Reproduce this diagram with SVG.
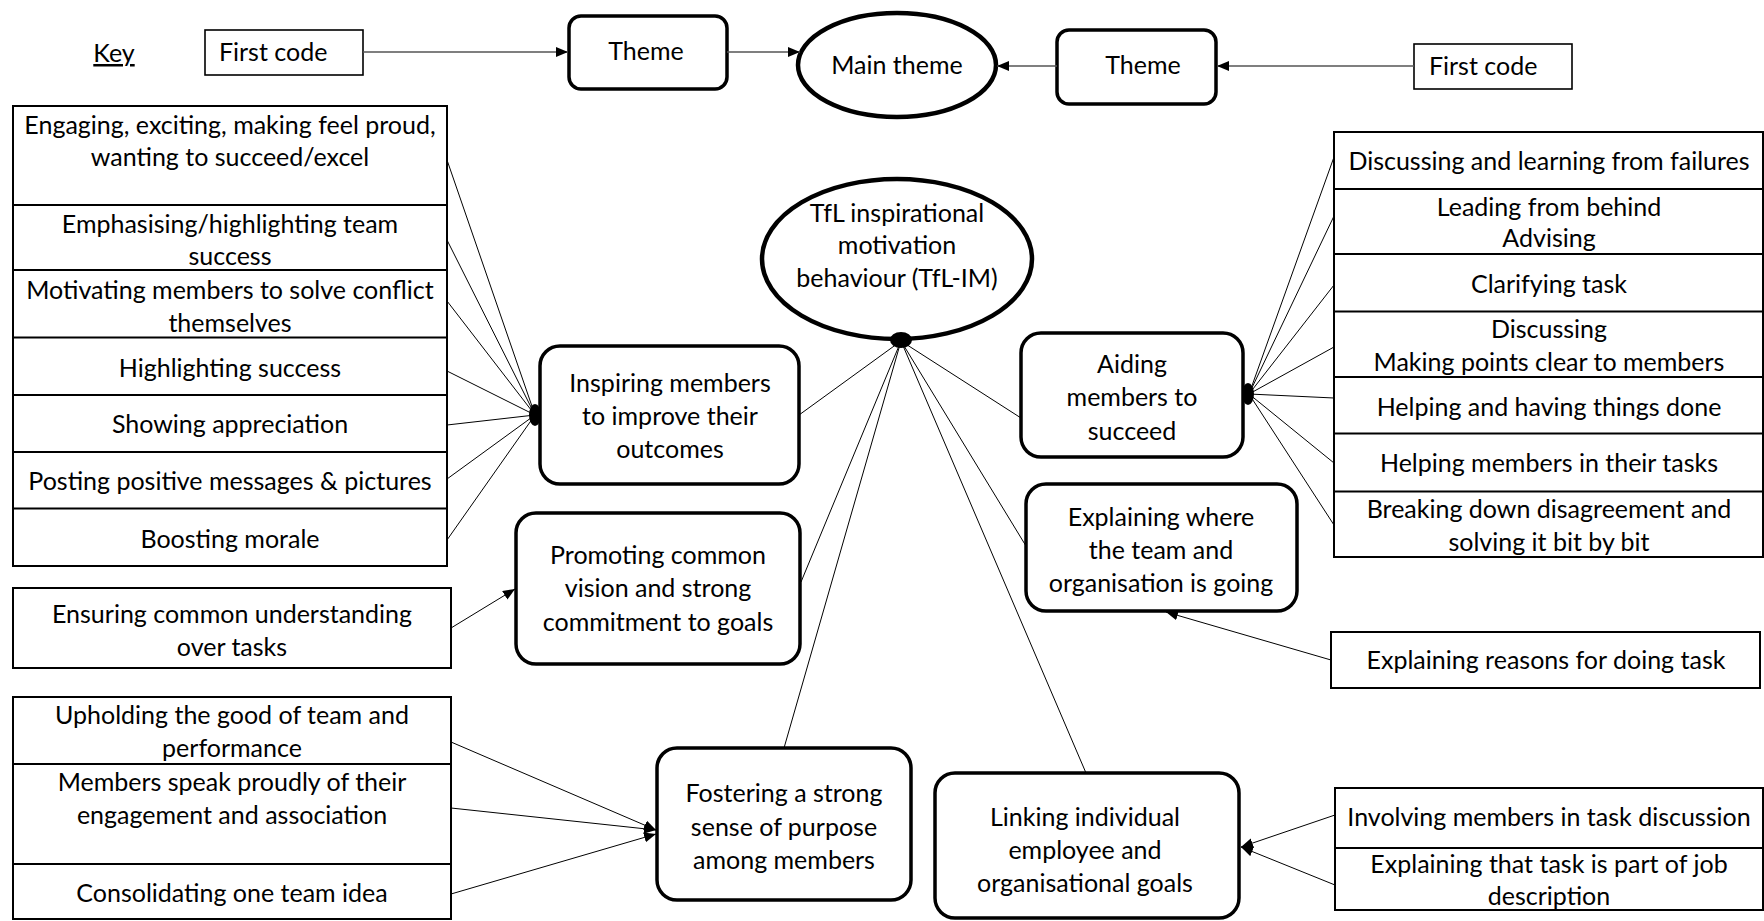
<svg xmlns="http://www.w3.org/2000/svg" width="1764" height="921" viewBox="0 0 1764 921">
  <style>
    text { font-family: Lato, "Open Sans", "Liberation Sans", sans-serif; font-size: 25px; fill: #000; }
    .c { text-anchor: middle; }
    .code { fill: #fff; stroke: #000; stroke-width: 1.6; }
    .table { fill: #fff; stroke: #000; stroke-width: 2; }
    .row { stroke: #000; stroke-width: 2; }
    .theme { fill: #fff; stroke: #000; stroke-width: 3.5; }
    .main { fill: #fff; stroke: #000; stroke-width: 4.5; }
    .link { stroke: #000; stroke-width: 1; fill: none; }
    .keylink { stroke: #555; stroke-width: 1.6; fill: none; }
    .hub { fill: #000; }
  </style>
  <defs>
    <marker id="arrow" markerUnits="userSpaceOnUse" markerWidth="13" markerHeight="11" refX="12" refY="5" orient="auto">
      <path d="M0,0 L12,5 L0,10 z" fill="#000"/>
    </marker>
  </defs>
  <rect width="1764" height="921" fill="#fff"/>

  <!-- key -->
  <g id="key">
    <text x="114" y="62" class="c" text-decoration="underline">Key</text>
    <g id="key-code-left">
      <rect class="code" x="205" y="30" width="158" height="45"/>
      <text x="219" y="61">First code</text>
    </g>
    <g id="key-theme-left">
      <rect class="theme" x="569" y="16" width="158" height="73" rx="12"/>
      <text x="646" y="60" class="c">Theme</text>
    </g>
    <g id="key-main">
      <ellipse class="main" cx="897" cy="65" rx="99" ry="52"/>
      <text x="897" y="74" class="c">Main theme</text>
    </g>
    <g id="key-theme-right">
      <rect class="theme" x="1057" y="30" width="159" height="74" rx="12"/>
      <text x="1143" y="74" class="c">Theme</text>
    </g>
    <g id="key-code-right">
      <rect class="code" x="1414" y="44" width="158" height="45"/>
      <text x="1429" y="75">First code</text>
    </g>
  </g>

  <!-- connectors -->
  <g id="connectors">
    <!-- key arrows -->
    <line class="keylink" x1="363" y1="52" x2="568" y2="52" marker-end="url(#arrow)"/>
    <line class="keylink" x1="727" y1="52" x2="800" y2="52" marker-end="url(#arrow)"/>
    <line class="keylink" x1="1414" y1="66" x2="1217" y2="66" marker-end="url(#arrow)"/>
    <line class="keylink" x1="1057" y1="66" x2="997" y2="66" marker-end="url(#arrow)"/>

    <!-- main theme to themes -->
    <line class="link" x1="901" y1="341" x2="799" y2="415"/>
    <line class="link" x1="901" y1="341" x2="801" y2="582"/>
    <line class="link" x1="901" y1="341" x2="784" y2="748"/>
    <line class="link" x1="901" y1="341" x2="1021" y2="418"/>
    <line class="link" x1="901" y1="341" x2="1026" y2="546"/>
    <line class="link" x1="901" y1="341" x2="1086" y2="773"/>

    <!-- codes to "Inspiring members" -->
    <line class="link" x1="447" y1="160" x2="535" y2="415"/>
    <line class="link" x1="447" y1="240" x2="535" y2="415"/>
    <line class="link" x1="447" y1="301" x2="535" y2="415"/>
    <line class="link" x1="447" y1="371" x2="535" y2="415"/>
    <line class="link" x1="447" y1="425" x2="535" y2="415"/>
    <line class="link" x1="447" y1="479" x2="535" y2="415"/>
    <line class="link" x1="447" y1="540" x2="535" y2="415"/>

    <!-- codes to "Aiding members" -->
    <line class="link" x1="1249" y1="394" x2="1334" y2="157"/>
    <line class="link" x1="1249" y1="394" x2="1334" y2="216"/>
    <line class="link" x1="1249" y1="394" x2="1334" y2="285"/>
    <line class="link" x1="1249" y1="394" x2="1334" y2="347"/>
    <line class="link" x1="1249" y1="394" x2="1334" y2="398"/>
    <line class="link" x1="1249" y1="394" x2="1334" y2="463"/>
    <line class="link" x1="1249" y1="394" x2="1334" y2="525"/>

    <!-- arrowed code links -->
    <line class="link" x1="451" y1="628" x2="515" y2="589" marker-end="url(#arrow)"/>
    <line class="link" x1="451" y1="742" x2="656" y2="830" marker-end="url(#arrow)"/>
    <line class="link" x1="451" y1="808" x2="656" y2="830" marker-end="url(#arrow)"/>
    <line class="link" x1="451" y1="894" x2="656" y2="834" marker-end="url(#arrow)"/>
    <line class="link" x1="1331" y1="660" x2="1166" y2="612" marker-end="url(#arrow)"/>
    <line class="link" x1="1335" y1="815" x2="1241" y2="847" marker-end="url(#arrow)"/>
    <line class="link" x1="1335" y1="885" x2="1241" y2="847" marker-end="url(#arrow)"/>
  </g>

  <!-- main theme -->
  <g id="tfl-im">
    <ellipse class="main" cx="897" cy="259" rx="135" ry="80"/>
    <text x="897" y="222" class="c">TfL inspirational</text>
    <text x="897" y="254" class="c">motivation</text>
    <text x="897" y="287" class="c">behaviour (TfL-IM)</text>
  </g>

  <!-- junction hubs -->
  <g id="hubs">
    <ellipse class="hub" cx="901" cy="340" rx="11" ry="8"/>
    <ellipse class="hub" cx="535" cy="415" rx="6" ry="11"/>
    <ellipse class="hub" cx="1248" cy="394" rx="6" ry="11"/>
  </g>

  <!-- themes -->
  <g id="theme-inspiring">
    <rect class="theme" x="540" y="346" width="259" height="138" rx="20"/>
    <text x="670" y="392" class="c">Inspiring members</text>
    <text x="670" y="425" class="c">to improve their</text>
    <text x="670" y="458" class="c">outcomes</text>
  </g>
  <g id="theme-vision">
    <rect class="theme" x="516" y="513" width="284" height="151" rx="20"/>
    <text x="658" y="564" class="c">Promoting common</text>
    <text x="658" y="597" class="c">vision and strong</text>
    <text x="658" y="631" class="c">commitment to goals</text>
  </g>
  <g id="theme-purpose">
    <rect class="theme" x="657" y="748" width="254" height="152" rx="20"/>
    <text x="784" y="802" class="c">Fostering a strong</text>
    <text x="784" y="836" class="c">sense of purpose</text>
    <text x="784" y="869" class="c">among members</text>
  </g>
  <g id="theme-aiding">
    <rect class="theme" x="1021" y="333" width="222" height="124" rx="20"/>
    <text x="1132" y="373" class="c">Aiding</text>
    <text x="1132" y="406" class="c">members to</text>
    <text x="1132" y="440" class="c">succeed</text>
  </g>
  <g id="theme-explaining">
    <rect class="theme" x="1026" y="484" width="271" height="127" rx="20"/>
    <text x="1161" y="526" class="c">Explaining where</text>
    <text x="1161" y="559" class="c">the team and</text>
    <text x="1161" y="592" class="c">organisation is going</text>
  </g>
  <g id="theme-linking">
    <rect class="theme" x="935" y="773" width="304" height="145" rx="20"/>
    <text x="1085" y="826" class="c">Linking individual</text>
    <text x="1085" y="859" class="c">employee and</text>
    <text x="1085" y="892" class="c">organisational goals</text>
  </g>

  <!-- codes for "Inspiring members" -->
  <g id="codes-inspiring">
    <rect class="table" x="13" y="106" width="434" height="460"/>
    <line class="row" x1="13" y1="205" x2="447" y2="205"/>
    <line class="row" x1="13" y1="270" x2="447" y2="270"/>
    <line class="row" x1="13" y1="337.5" x2="447" y2="337.5"/>
    <line class="row" x1="13" y1="395" x2="447" y2="395"/>
    <line class="row" x1="13" y1="452" x2="447" y2="452"/>
    <line class="row" x1="13" y1="508.5" x2="447" y2="508.5"/>
    <text x="230" y="134" class="c">Engaging, exciting, making feel proud,</text>
    <text x="230" y="166" class="c">wanting to succeed/excel</text>
    <text x="230" y="233" class="c">Emphasising/highlighting team</text>
    <text x="230" y="265" class="c">success</text>
    <text x="230" y="299" class="c">Motivating members to solve conflict</text>
    <text x="230" y="332" class="c">themselves</text>
    <text x="230" y="377" class="c">Highlighting success</text>
    <text x="230" y="433" class="c">Showing appreciation</text>
    <text x="230" y="490" class="c">Posting positive messages &amp; pictures</text>
    <text x="230" y="548" class="c">Boosting morale</text>
  </g>

  <g id="code-understanding">
    <rect class="table" x="13" y="588" width="438" height="80"/>
    <text x="232" y="623" class="c">Ensuring common understanding</text>
    <text x="232" y="656" class="c">over tasks</text>
  </g>

  <g id="codes-purpose">
    <rect class="table" x="13" y="697" width="438" height="222"/>
    <line class="row" x1="13" y1="764" x2="451" y2="764"/>
    <line class="row" x1="13" y1="864" x2="451" y2="864"/>
    <text x="232" y="724" class="c">Upholding the good of team and</text>
    <text x="232" y="757" class="c">performance</text>
    <text x="232" y="791" class="c">Members speak proudly of their</text>
    <text x="232" y="824" class="c">engagement and association</text>
    <text x="232" y="902" class="c">Consolidating one team idea</text>
  </g>

  <!-- codes for "Aiding members" -->
  <g id="codes-aiding">
    <rect class="table" x="1334" y="132" width="429" height="425"/>
    <line class="row" x1="1334" y1="189" x2="1763" y2="189"/>
    <line class="row" x1="1334" y1="254" x2="1763" y2="254"/>
    <line class="row" x1="1334" y1="311.5" x2="1763" y2="311.5"/>
    <line class="row" x1="1334" y1="377" x2="1763" y2="377"/>
    <line class="row" x1="1334" y1="433.5" x2="1763" y2="433.5"/>
    <line class="row" x1="1334" y1="491.5" x2="1763" y2="491.5"/>
    <text x="1549" y="170" class="c">Discussing and learning from failures</text>
    <text x="1549" y="216" class="c">Leading from behind</text>
    <text x="1549" y="247" class="c">Advising</text>
    <text x="1549" y="293" class="c">Clarifying task</text>
    <text x="1549" y="338" class="c">Discussing</text>
    <text x="1549" y="371" class="c">Making points clear to members</text>
    <text x="1549" y="416" class="c">Helping and having things done</text>
    <text x="1549" y="472" class="c">Helping members in their tasks</text>
    <text x="1549" y="518" class="c">Breaking down disagreement and</text>
    <text x="1549" y="551" class="c">solving it bit by bit</text>
  </g>

  <g id="code-reasons">
    <rect class="table" x="1331" y="632" width="429" height="56"/>
    <text x="1546" y="669" class="c">Explaining reasons for doing task</text>
  </g>

  <g id="codes-linking">
    <rect class="table" x="1335" y="788" width="428" height="122"/>
    <line class="row" x1="1335" y1="848" x2="1763" y2="848"/>
    <text x="1549" y="826" class="c">Involving members in task discussion</text>
    <text x="1549" y="873" class="c">Explaining that task is part of job</text>
    <text x="1549" y="905" class="c">description</text>
  </g>
</svg>
